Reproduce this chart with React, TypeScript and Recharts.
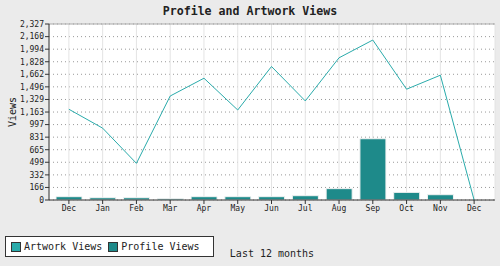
import {
  Bar,
  CartesianGrid,
  ComposedChart,
  Line,
  ReferenceLine,
  XAxis,
  YAxis,
} from 'recharts';

const months = ['Dec', 'Jan', 'Feb', 'Mar', 'Apr', 'May', 'Jun', 'Jul', 'Aug', 'Sep', 'Oct', 'Nov', 'Dec'];
const artworkViews = [1200, 950, 485, 1375, 1610, 1190, 1765, 1310, 1880, 2115, 1465, 1650, 0];
const profileViews = [44, 30, 30, 17, 44, 44, 44, 57, 150, 810, 101, 70, 0];
const yTicks = [0, 166, 332, 499, 665, 831, 997, 1163, 1329, 1496, 1662, 1828, 1994, 2160, 2327];

const font = '"DejaVu Sans Mono", "Liberation Mono", monospace';
const artColor = '#2aabab';
const profileColor = '#1e8a8a';

const series = [
  { label: 'Artwork Views', color: artColor },
  { label: 'Profile Views', color: profileColor },
];

const chartData = months.map((m, i) => ({
  idx: i,
  month: m,
  artwork: artworkViews[i],
  profile: profileViews[i],
}));

function LegendBox() {
  return (
    <div
      style={{
        position: 'absolute',
        left: 5,
        top: 236,
        display: 'flex',
        alignItems: 'center',
        background: '#fff',
        border: '1px solid #333',
        height: 21,
        boxSizing: 'border-box',
        width: 209,
        padding: '0 0 0 5px',
        fontFamily: font,
        fontSize: 10,
        color: '#222',
      }}
    >
      {series.map((s) => (
        <span key={s.label} style={{ display: 'flex', alignItems: 'center', marginRight: 6 }}>
          <span
            style={{
              display: 'inline-block',
              width: 8,
              height: 8,
              background: s.color,
              border: '1px solid #333',
              marginRight: 3,
            }}
          />
          {s.label}
        </span>
      ))}
    </div>
  );
}

const dottedLine = (p: any) => (
  <line key={p.key} x1={p.x1} y1={p.y1} x2={p.x2} y2={p.y2} stroke="#999" strokeDasharray="1 3" />
);
const solidLine = (p: any) => (
  <line key={p.key} x1={p.x1} y1={p.y1} x2={p.x2} y2={p.y2} stroke="#e4e4e4" />
);

export default function App() {
  return (
    <div style={{ position: 'absolute', left: 0, top: 0, width: 500, height: 266, background: '#ebebeb' }}>
      <div
        style={{
          position: 'absolute',
          left: 0,
          top: 4,
          width: 500,
          textAlign: 'center',
          fontFamily: font,
          fontWeight: 'bold',
          fontSize: 11.6,
          color: '#222',
        }}
      >
        Profile and Artwork Views
      </div>
      <ComposedChart
        width={500}
        height={266}
        data={chartData}
        margin={{ top: 24, right: 5, bottom: 46, left: 0 }}
        barCategoryGap={0}
      >
        <CartesianGrid fill="#fff" horizontal={dottedLine} vertical={solidLine} />
        <XAxis
          dataKey="idx"
          type="category"
          height={20}
          padding={{ left: 3, right: 4 }}
          tickFormatter={(i) => months[i]}
          tick={{ fontFamily: font, fontSize: 8, fill: '#222' }}
          tickSize={4}
          tickMargin={1}
          axisLine={{ stroke: '#333' }}
          tickLine={{ stroke: '#333' }}
          interval={0}
          label={{
            value: 'Last 12 months',
            position: 'bottom',
            offset: 30,
            style: { fontFamily: font, fontSize: 10, fill: '#222' },
          }}
        />
        <YAxis
          width={49}
          domain={[0, 2327]}
          ticks={yTicks}
          interval={0}
          tickFormatter={(v) => v.toLocaleString('en-US')}
          tick={{ fontFamily: font, fontSize: 8, fill: '#222' }}
          tickSize={4}
          tickMargin={1}
          axisLine={{ stroke: '#333' }}
          tickLine={{ stroke: '#333' }}
          label={{
            content: ({ viewBox }: any) => {
              const x = viewBox.x + 13;
              const y = viewBox.y + viewBox.height / 2;
              return (
                <text
                  x={x}
                  y={y}
                  transform={`rotate(-90 ${x} ${y})`}
                  textAnchor="middle"
                  dominantBaseline="middle"
                  style={{ fontFamily: font, fontSize: 10, fill: '#222' }}
                >
                  Views
                </text>
              );
            },
          }}
        />
        <YAxis yAxisId="right" orientation="right" width={0} tick={false} tickLine={false} axisLine={{ stroke: '#aaa' }} />
        <ReferenceLine y={2327} stroke="#aaa" />
        <Bar dataKey="profile" name="Profile Views" fill={profileColor} stroke="#f2f2f2" strokeWidth={1} barSize={26} isAnimationActive={false} />
        <Line
          type="linear"
          dataKey="artwork"
          name="Artwork Views"
          stroke={artColor}
          strokeWidth={1}
          dot={false}
          activeDot={false}
          isAnimationActive={false}
        />
      </ComposedChart>
      <LegendBox />
    </div>
  );
}
